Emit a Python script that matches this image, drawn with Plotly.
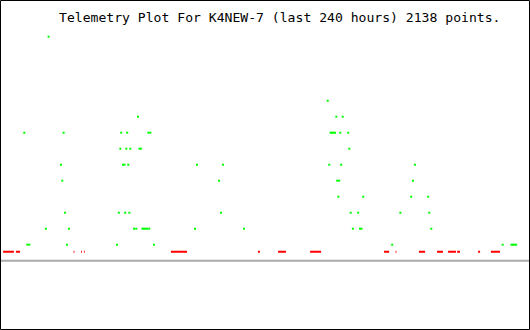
import plotly.graph_objects as go

# ---- data (time in hours from start of the 240 h window, value = telemetry level) ----
title_text = "Telemetry Plot For K4NEW-7 (last 240 hours) 2138 points."

green_hours = [
    22.0,
    148.4,
    62.5, 152.3, 155.2,
    11.0, 28.8, 54.9, 57.6, 67.2, 68.1, 149.7, 150.3, 151.0, 151.7, 154.1, 157.7,
    54.5, 57.2, 59.0, 63.2, 63.8, 158.2,
    27.6, 55.7, 56.4, 58.1, 89.2, 101.0, 149.1, 154.5, 187.9,
    28.2, 99.2, 152.7, 153.6, 187.0,
    153.2, 164.5, 186.2, 193.9,
    29.4, 53.8, 56.7, 58.6, 100.1, 158.8, 162.2, 181.3, 194.4,
    20.8, 31.2, 60.7, 61.7, 64.5, 65.2, 65.9, 66.6, 67.6, 88.3, 110.5, 159.8, 163.0, 163.7, 195.3,
    12.4, 13.3, 30.3, 53.0, 69.7, 177.6, 227.6, 231.6, 232.3, 233.0, 233.7,
]
green_values = (
    [13]
    + [9]
    + [8] * 3
    + [7] * 12
    + [6] * 6
    + [5] * 9
    + [4] * 5
    + [3] * 4
    + [2] * 9
    + [1] * 15
    + [0] * 11
)

red_start = [1.4, 7.2, 33.3, 36.7, 38.0, 77.4, 116.8, 125.9, 140.4, 173.9, 179.1,
             189.7, 197.9, 202.9, 207.0, 216.5, 222.3]
red_end = [6.3, 9.1, 33.7, 37.1, 38.4, 84.7, 117.7, 129.5, 145.4, 176.2, 179.5,
           192.5, 200.6, 206.5, 208.3, 217.4, 226.4]
red_level = -0.44
baseline_level = -1

x_range = [0, 240]
y_range = [-5.331, 15.294]

# ---- figure ----
fig = go.Figure()

rx, ry = [], []
for s, e in zip(red_start, red_end):
    rx += [s, e, None]
    ry += [red_level, red_level, None]
fig.add_trace(go.Scatter(x=rx, y=ry, mode="lines",
                         line=dict(color="#ff0000", width=2),
                         hoverinfo="skip", showlegend=False))

fig.add_trace(go.Scatter(x=green_hours, y=green_values, mode="markers",
                         marker=dict(symbol="square", size=2, color="#00ff00",
                                     line=dict(width=0)),
                         showlegend=False))

fig.add_shape(type="line", xref="paper", yref="y", x0=0, x1=1,
              y0=baseline_level, y1=baseline_level,
              line=dict(color="#aaaaaa", width=2), layer="below")

fig.add_shape(type="rect", xref="paper", yref="paper",
              x0=0.5 / 530, x1=529.5 / 530, y0=0.5 / 330, y1=329.5 / 330,
              line=dict(color="#000000", width=1), fillcolor="rgba(0,0,0,0)")

fig.add_annotation(text=title_text, xref="paper", yref="paper",
                   x=279.5 / 530, y=1 - 17 / 330, xanchor="center", yanchor="middle",
                   showarrow=False,
                   font=dict(family="DejaVu Sans Mono", size=13.1, color="#000000"))

fig.update_layout(
    width=530, height=330,
    margin=dict(l=0, r=0, t=0, b=0, pad=0),
    paper_bgcolor="#ffffff", plot_bgcolor="#ffffff",
    xaxis=dict(range=x_range, visible=False, showgrid=False, zeroline=False, fixedrange=True),
    yaxis=dict(range=y_range, visible=False, showgrid=False, zeroline=False, fixedrange=True),
    showlegend=False,
)

fig.write_html("out.html", config={"displayModeBar": False})
